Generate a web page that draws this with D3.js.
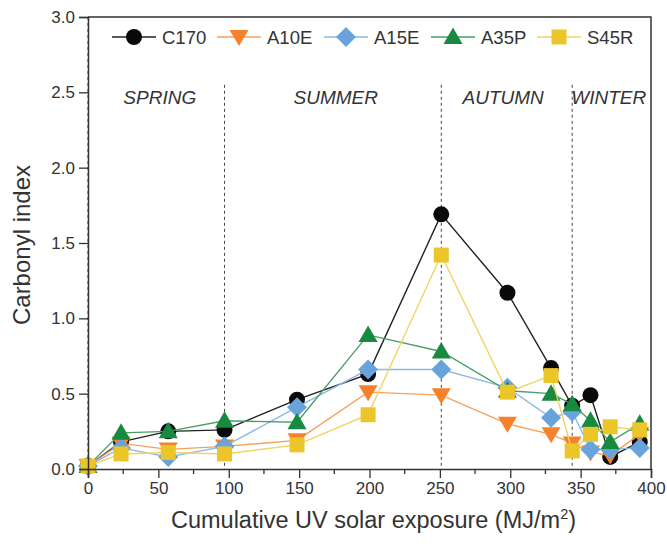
<!DOCTYPE html>
<html><head><meta charset="utf-8">
<script src="https://cdn.jsdelivr.net/npm/d3@7"></script>
<style>body{margin:0;background:#fff}svg{display:block;font-family:"Liberation Sans",Arial,sans-serif}</style>
</head><body><svg id="c" width="667" height="545"></svg>
<script>
const exposure = [0, 23.5, 57, 97, 148.5, 199, 251, 298, 329, 344, 357, 371, 392];
const C170 = [0.02, 0.18, 0.25, 0.26, 0.46, 0.63, 1.69, 1.17, 0.67, 0.42, 0.49, 0.08, 0.18];
const A10E = [0.02, 0.17, 0.13, 0.15, 0.19, 0.51, 0.49, 0.30, 0.23, 0.17, 0.11, 0.09, 0.23];
const A15E = [0.02, 0.14, 0.08, 0.15, 0.41, 0.66, 0.66, 0.54, 0.34, 0.38, 0.13, 0.13, 0.14];
const A35P = [0.02, 0.24, 0.25, 0.32, 0.31, 0.89, 0.78, 0.52, 0.50, 0.43, 0.32, 0.18, 0.30];
const S45R = [0.02, 0.10, 0.11, 0.10, 0.16, 0.36, 1.42, 0.51, 0.62, 0.12, 0.23, 0.28, 0.26];
const seriesNames = ["C170", "A10E", "A15E", "A35P", "S45R"];
const seasonBounds = [97, 251, 344];
const seasons = [{name:"SPRING", at:51}, {name:"SUMMER", at:176}, {name:"AUTUMN", at:295}, {name:"WINTER", at:370}];
const xTicks = [0, 50, 100, 150, 200, 250, 300, 350, 400];
const yTicks = [0, 0.5, 1.0, 1.5, 2.0, 2.5, 3.0];

const seriesData = [C170, A10E, A15E, A35P, S45R];
const styles = [
  {marker:"circle", fill:"#0a0a0a", line:"#222"},
  {marker:"tdown", fill:"#f5822b", line:"#f7a05a"},
  {marker:"diamond", fill:"#69a3db", line:"#8cb9e6"},
  {marker:"tup", fill:"#188a3f", line:"#4a9e66"},
  {marker:"square", fill:"#ecc529", line:"#f1d362"}
];

const svg = d3.select("#c");
const L = 88, R = 651, T = 17, B = 469;
const x = d3.scaleLinear().domain([0, 400]).range([L, R]);
const y = d3.scaleLinear().domain([0, 3]).range([B, T]);
const ink = "#333";

function markerPath(type) {
  switch (type) {
    case "circle": return "M8,0A8,8 0 1,1 -8,0A8,8 0 1,1 8,0Z";
    case "tdown": return "M-9.5,-7L9.5,-7L0,9Z";
    case "tup": return "M-9.5,7L9.5,7L0,-9.5Z";
    case "diamond": return "M0,-10L10,0L0,10L-10,0Z";
    case "square": return "M-7.5,-7.5L7.5,-7.5L7.5,7.5L-7.5,7.5Z";
  }
}

// season dividers
svg.append("g").selectAll("line").data(seasonBounds).join("line")
  .attr("x1", d => x(d)).attr("x2", d => x(d))
  .attr("y1", y(2.55)).attr("y2", B)
  .attr("stroke", "#444").attr("stroke-width", 1).attr("stroke-dasharray", "3,3");
svg.append("line").attr("x1", L).attr("x2", L).attr("y1", T).attr("y2", B)
  .attr("stroke", "#444").attr("stroke-width", 1).attr("stroke-dasharray", "3,3");

svg.append("g").selectAll("text").data(seasons).join("text")
  .attr("x", d => x(d.at)).attr("y", 104)
  .attr("text-anchor", "middle").attr("font-style", "italic")
  .attr("font-size", 19).attr("fill", ink).text(d => d.name);

// series
const lineGen = d3.line().x((d, i) => x(exposure[i])).y(d => y(d));
seriesData.forEach((vals, s) => {
  const g = svg.append("g");
  g.append("path").datum(vals).attr("d", lineGen)
    .attr("fill", "none").attr("stroke", styles[s].line).attr("stroke-width", 1.4);
  g.selectAll("path.m").data(vals).join("path").attr("class", "m")
    .attr("transform", (d, i) => `translate(${x(exposure[i])},${y(d)})`)
    .attr("d", markerPath(styles[s].marker))
    .attr("fill", styles[s].fill);
});

// axes
const xAxis = d3.axisBottom(x).tickValues(xTicks).tickSize(9).tickPadding(4).tickFormat(d3.format("d"));
const gx = svg.append("g").attr("transform", `translate(0,${B})`).call(xAxis);
gx.append("g").selectAll("line").data(d3.range(25, 400, 50)).join("line")
  .attr("x1", d => x(d)).attr("x2", d => x(d)).attr("y1", 0).attr("y2", 5)
  .attr("stroke", ink).attr("stroke-width", 1.3);
const yAxis = d3.axisLeft(y).tickValues(yTicks).tickSize(9).tickPadding(4).tickFormat(d3.format(".1f"));
const gy = svg.append("g").attr("transform", `translate(${L},0)`).call(yAxis);
[gx, gy].forEach(g => {
  g.select(".domain").attr("stroke", ink).attr("stroke-width", 1.5);
  g.selectAll(".tick line").attr("stroke", ink).attr("stroke-width", 1.3);
  g.selectAll(".tick text").attr("font-size", 17).attr("fill", ink)
    .attr("font-family", '"Liberation Sans",Arial,sans-serif');
});
// frame top/right
svg.append("path").attr("d", `M${L},${T}H${R}V${B}`).attr("fill", "none")
  .attr("stroke", ink).attr("stroke-width", 1.5);

// legend
const legendX = [112, 217, 324, 431, 537];
const lg = svg.append("g");
seriesNames.forEach((name, s) => {
  const lx = legendX[s], ly = 37;
  lg.append("line").attr("x1", lx).attr("x2", lx + 44).attr("y1", ly).attr("y2", ly)
    .attr("stroke", styles[s].line).attr("stroke-width", 1.4);
  lg.append("path").attr("transform", `translate(${lx + 22},${ly})`)
    .attr("d", markerPath(styles[s].marker)).attr("fill", styles[s].fill);
  lg.append("text").attr("x", lx + 50).attr("y", ly + 6.5)
    .attr("font-size", 18.5).attr("fill", ink).text(name);
});

// axis titles
const xt = svg.append("text").attr("x", (L + R) / 2 + 4).attr("y", 528)
  .attr("text-anchor", "middle").attr("font-size", 23.5).attr("fill", ink);
xt.append("tspan").text("Cumulative UV solar exposure (MJ/m");
xt.append("tspan").attr("font-size", 14.5).attr("dy", -9).text("2");
xt.append("tspan").attr("dy", 9).text(")");
svg.append("text").attr("transform", `translate(30,${(T + B) / 2 + 2}) rotate(-90)`)
  .attr("text-anchor", "middle").attr("font-size", 24).attr("fill", ink).text("Carbonyl index");
</script></body></html>
